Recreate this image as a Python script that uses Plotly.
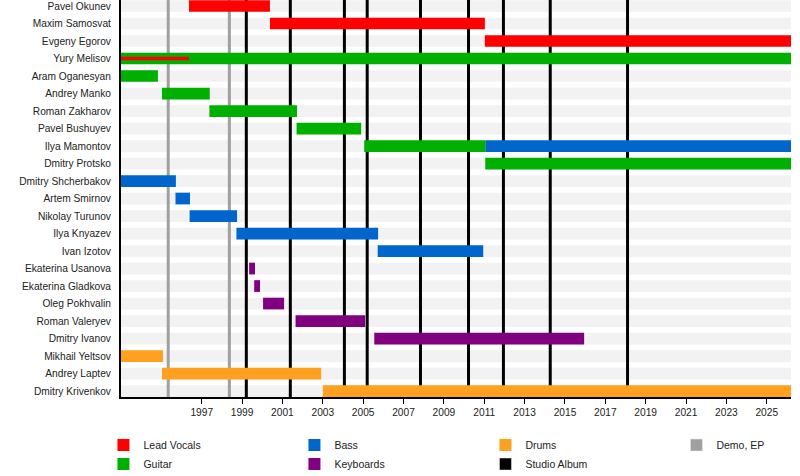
import plotly.graph_objects as go

# timeline of band members, dates in decimal years
START = 1993.0
END = 2026.2

members = [
    "Pavel Okunev", "Maxim Samosvat", "Evgeny Egorov", "Yury Melisov",
    "Aram Oganesyan", "Andrey Manko", "Roman Zakharov", "Pavel Bushuyev",
    "Ilya Mamontov", "Dmitry Protsko", "Dmitry Shcherbakov", "Artem Smirnov",
    "Nikolay Turunov", "Ilya Knyazev", "Ivan Izotov", "Ekaterina Usanova",
    "Ekaterina Gladkova", "Oleg Pokhvalin", "Roman Valeryev", "Dmitry Ivanov",
    "Mikhail Yeltsov", "Andrey Laptev", "Dmitry Krivenkov",
]

vocals_names = ["Pavel Okunev", "Maxim Samosvat", "Evgeny Egorov"]
vocals_start = [1996.37, 2000.38, 2011.03]
vocals_end = [2000.38, 2011.03, END]

# early lead vocals of Yury Melisov (thin line over his guitar bar)
vocals2_names = ["Yury Melisov"]
vocals2_start = [1993.0]
vocals2_end = [1996.37]

guitar_names = ["Yury Melisov", "Aram Oganesyan", "Andrey Manko", "Roman Zakharov",
                "Pavel Bushuyev", "Ilya Mamontov", "Dmitry Protsko"]
guitar_start = [1993.0, 1993.0, 1995.03, 1997.38, 2001.70, 2005.05, 2011.05]
guitar_end = [END, 1994.83, 1997.40, 2001.72, 2004.90, 2011.05, END]

bass_names = ["Ilya Mamontov", "Dmitry Shcherbakov", "Artem Smirnov", "Nikolay Turunov",
              "Ilya Knyazev", "Ivan Izotov"]
bass_start = [2011.05, 1993.0, 1995.70, 1996.40, 1998.72, 2005.72]
bass_end = [END, 1995.72, 1996.42, 1998.75, 2005.74, 2010.95]

keys_names = ["Ekaterina Usanova", "Ekaterina Gladkova", "Oleg Pokhvalin",
              "Roman Valeryev", "Dmitry Ivanov"]
keys_start = [1999.35, 1999.60, 2000.04, 2001.65, 2005.55]
keys_end = [1999.64, 1999.89, 2001.08, 2005.10, 2015.95]

drums_names = ["Mikhail Yeltsov", "Andrey Laptev", "Dmitry Krivenkov"]
drums_start = [1993.0, 1995.03, 2003.0]
drums_end = [1995.08, 2002.92, END]

demo_dates = [1995.34, 1998.37]
album_dates = [1999.21, 2001.39, 2004.07, 2005.20, 2007.84, 2010.22, 2011.95, 2014.27, 2018.10]

tick_years = list(range(1997, 2026, 2))

RED = "#ff0000"
GREEN = "#00b000"
BLUE = "#0066cc"
PURPLE = "#800080"
ORANGE = "#ffa020"
GRAY = "#a0a0a0"
BLACK = "#000000"

Y_TOP = -0.343
Y_BOTTOM = len(members) - 1 + 0.34


def role_bar(names, starts, ends, color, label, width=0.67, showlegend=True):
    return go.Bar(
        y=names,
        x=[e - s for s, e in zip(starts, ends)],
        base=starts,
        orientation="h",
        width=width,
        marker=dict(color=color, line=dict(width=0)),
        name=label,
        legendgroup=label,
        showlegend=showlegend,
    )


def legend_only(color, label):
    return go.Bar(x=[None], y=[None], orientation="h",
                  marker=dict(color=color), name=label)


fig = go.Figure()
# order chosen so the horizontal legend fills rows like the original
fig.add_trace(role_bar(vocals_names, vocals_start, vocals_end, RED, "Lead Vocals"))
fig.add_trace(role_bar(bass_names, bass_start, bass_end, BLUE, "Bass"))
fig.add_trace(role_bar(drums_names, drums_start, drums_end, ORANGE, "Drums"))
fig.add_trace(legend_only(GRAY, "Demo, EP"))
fig.add_trace(role_bar(guitar_names, guitar_start, guitar_end, GREEN, "Guitar"))
fig.add_trace(role_bar(keys_names, keys_start, keys_end, PURPLE, "Keyboards"))
fig.add_trace(legend_only(BLACK, "Studio Album"))
fig.add_trace(role_bar(vocals2_names, vocals2_start, vocals2_end, RED, "Lead Vocals",
                       width=0.19, showlegend=False))

# light stripes behind every row
for i in range(len(members)):
    fig.add_shape(type="rect", xref="x", yref="y", x0=START, x1=END,
                  y0=i - 0.335, y1=i + 0.335, fillcolor="#f2f2f2",
                  line=dict(width=0), layer="below")

# release lines, drawn after the stripes so they sit on top of them
for d in demo_dates:
    fig.add_shape(type="line", xref="x", yref="y", x0=d, x1=d, y0=Y_TOP, y1=Y_BOTTOM,
                  line=dict(color=GRAY, width=3), layer="below")
for d in album_dates:
    fig.add_shape(type="line", xref="x", yref="y", x0=d, x1=d, y0=Y_TOP, y1=Y_BOTTOM,
                  line=dict(color=BLACK, width=3), layer="below")

fig.update_layout(
    width=800,
    height=476,
    margin=dict(l=121, r=9, t=0, b=79, autoexpand=False),
    barmode="overlay",
    paper_bgcolor="white",
    plot_bgcolor="white",
    font=dict(family="Liberation Sans, Arial, sans-serif", size=10.2, color="#222"),
    showlegend=True,
    legend=dict(
        orientation="h",
        x=-0.0262, y=-0.0845, xanchor="left", yanchor="top",
        entrywidth=146, entrywidthmode="pixels",
        traceorder="normal",
        font=dict(size=10.5),
        bgcolor="rgba(0,0,0,0)",
    ),
    xaxis=dict(
        range=[START, END],
        tickvals=tick_years,
        ticktext=[str(y) for y in tick_years],
        ticks="outside", ticklen=5, tickcolor=BLACK,
        showline=True, linecolor=BLACK, linewidth=2,
        showgrid=False, zeroline=False, automargin=False,
    ),
    yaxis=dict(
        type="category",
        categoryorder="array",
        categoryarray=members,
        range=[Y_BOTTOM, Y_TOP],
        showline=True, linecolor=BLACK, linewidth=2,
        showgrid=False, zeroline=False, ticks="",
        ticklabelstandoff=6, automargin=False,
    ),
)

# page body has a default 8px margin; drop it so the figure fills the window
fig.write_html("out.html", config={"displayModeBar": False},
               post_script="document.body.style.margin = '0';")
